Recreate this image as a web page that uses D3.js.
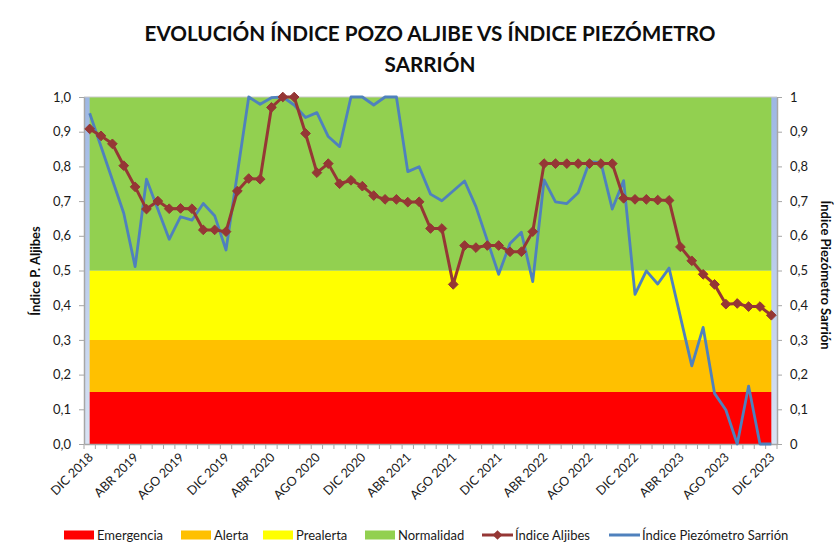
<!DOCTYPE html>
<html><head><meta charset="utf-8">
<script src="https://cdn.jsdelivr.net/npm/d3@7"></script>
<style>
body{margin:0;background:#fff;}
svg{font-family:Lato,"Open Sans",sans-serif;display:block;}
</style></head><body>
<svg id="c" width="839" height="557"></svg>
<script>
const categories = ["DIC 2018","ENE 2019","FEB 2019","MAR 2019","ABR 2019","MAY 2019","JUN 2019","JUL 2019","AGO 2019","SEP 2019","OCT 2019","NOV 2019",
"DIC 2019","ENE 2020","FEB 2020","MAR 2020","ABR 2020","MAY 2020","JUN 2020","JUL 2020","AGO 2020","SEP 2020","OCT 2020","NOV 2020",
"DIC 2020","ENE 2021","FEB 2021","MAR 2021","ABR 2021","MAY 2021","JUN 2021","JUL 2021","AGO 2021","SEP 2021","OCT 2021","NOV 2021",
"DIC 2021","ENE 2022","FEB 2022","MAR 2022","ABR 2022","MAY 2022","JUN 2022","JUL 2022","AGO 2022","SEP 2022","OCT 2022","NOV 2022",
"DIC 2022","ENE 2023","FEB 2023","MAR 2023","ABR 2023","MAY 2023","JUN 2023","JUL 2023","AGO 2023","SEP 2023","OCT 2023","NOV 2023","DIC 2023"];
const tickLabels = ["DIC 2018","ABR 2019","AGO 2019","DIC 2019","ABR 2020","AGO 2020","DIC 2020","ABR 2021","AGO 2021","DIC 2021","ABR 2022","AGO 2022","DIC 2022","ABR 2023","AGO 2023","DIC 2023"];
const emergencia = 0.15, alerta = 0.15, prealerta = 0.20, normalidad = 0.50;
const indiceAljibes = [0.908,0.888,0.865,0.802,0.741,0.677,0.700,0.678,0.679,0.678,0.617,0.617,
0.612,0.729,0.765,0.763,0.970,1.0,1.0,0.895,0.782,0.808,0.750,0.760,
0.743,0.716,0.705,0.705,0.697,0.698,0.621,0.621,0.460,0.572,0.566,0.572,
0.572,0.554,0.554,0.612,0.808,0.808,0.808,0.808,0.808,0.808,0.808,0.708,
0.705,0.705,0.703,0.702,0.568,0.528,0.489,0.460,0.403,0.405,0.396,0.396,0.371];
const indicePiezometro = [0.953,null,null,0.665,0.511,0.763,null,0.590,0.655,0.645,0.693,0.658,
0.559,null,1.0,0.979,0.998,1.0,0.977,0.941,0.955,0.886,0.857,1.0,
1.0,0.977,1.0,1.0,0.785,0.799,0.720,0.701,null,0.758,0.684,null,
0.489,0.578,0.610,0.468,0.761,0.698,0.693,0.724,0.814,0.811,0.677,0.759,
0.431,0.499,0.461,0.507,null,0.225,0.336,0.146,0.098,0,0.167,0,0];
const yTicks = [0,0.1,0.2,0.3,0.4,0.5,0.6,0.7,0.8,0.9,1.0];

const svg = d3.select("#c");
const L = 84, R = 777, T = 97, B = 444;
const x = d3.scaleBand().domain(categories).range([L, R]).paddingInner(0).paddingOuter(0);
const cx = c => x(c) + x.bandwidth()/2;
const yL = d3.scaleLinear().domain([0,1]).range([B, T]);
const yR = d3.scaleLinear().domain([0,1]).range([B, T]);

// background gradient
const defs = svg.append("defs");
const g = defs.append("linearGradient").attr("id","bg").attr("x1",0).attr("y1",0).attr("x2",0).attr("y2",1);
g.append("stop").attr("offset","0%").attr("stop-color","#9db7e4");
g.append("stop").attr("offset","100%").attr("stop-color","#d9e3f4");
svg.append("rect").attr("x",L).attr("y",T).attr("width",R-L).attr("height",B-T).attr("fill","url(#bg)");

// stacked areas
const bandData = categories.map(c => ({c, emergencia, alerta, prealerta, normalidad}));
const keys = ["emergencia","alerta","prealerta","normalidad"];
const colors = {emergencia:"#ff0000", alerta:"#ffc000", prealerta:"#ffff00", normalidad:"#92d050"};
const stack = d3.stack().keys(keys)(bandData);
const area = d3.area().x(d => cx(d.data.c)).y0(d => yL(d[0])).y1(d => yL(d[1]));
svg.append("g").selectAll("path").data(stack).join("path")
  .attr("d", area).attr("fill", d => colors[d.key]);

// top border
svg.append("line").attr("x1",L).attr("x2",R).attr("y1",T).attr("y2",T).attr("stroke","#c8c8c8").attr("stroke-width",1);

// axes
const fmtL = d => d3.format(".1f")(d).replace(".", ",");
const fmtR = d => d === 0 ? "0" : d === 1 ? "1" : d3.format(".1f")(d).replace(".", ",");
const axL = svg.append("g").attr("transform",`translate(${L},0)`)
  .call(d3.axisLeft(yL).tickValues(yTicks).tickFormat(fmtL).tickSize(5).tickSizeOuter(0).tickPadding(8));
const axR = svg.append("g").attr("transform",`translate(${R},0)`)
  .call(d3.axisRight(yR).tickValues(yTicks).tickFormat(fmtR).tickSize(5).tickSizeOuter(0).tickPadding(8));
[axL, axR].forEach(a => {
  a.select(".domain").attr("stroke","#a6a6a6").attr("stroke-width",1.5);
  a.selectAll(".tick line").attr("stroke","#a6a6a6");
  a.selectAll("text").attr("font-size",13).attr("fill","#1a1a1a").attr("font-family","Lato");
});

// x axis
const axB = svg.append("g").attr("transform",`translate(0,${B})`)
  .call(d3.axisBottom(x).tickValues(tickLabels).tickSize(0).tickSizeOuter(0));
axB.select(".domain").attr("stroke","#a6a6a6").attr("stroke-width",1.5);
axB.selectAll("text").attr("font-size",12.5).attr("fill","#1a1a1a").attr("font-family","Lato")
  .attr("text-anchor","end").attr("dy","0.35em")
  .attr("transform","translate(1,11) rotate(-45)").attr("y",0).attr("x",0);
const bounds = categories.map(c => x(c)).concat([R]);
svg.append("g").selectAll("line").data(bounds).join("line")
  .attr("x1", d => d).attr("x2", d => d).attr("y1", B).attr("y2", B+5)
  .attr("stroke","#a6a6a6").attr("stroke-width",1);

// piezometro line
const pData = categories.map((c,i) => ({c, v: indicePiezometro[i]})).filter(d => d.v !== null);
svg.append("path").datum(pData)
  .attr("d", d3.line().x(d => cx(d.c)).y(d => yR(d.v)))
  .attr("fill","none").attr("stroke","#4f81bd").attr("stroke-width",2.8).attr("stroke-linejoin","round");

// aljibes line
const aData = categories.map((c,i) => ({c, v: indiceAljibes[i]}));
svg.append("path").datum(aData)
  .attr("d", d3.line().x(d => cx(d.c)).y(d => yL(d.v)))
  .attr("fill","none").attr("stroke","#953735").attr("stroke-width",3).attr("stroke-linejoin","round");
const diamond = d3.symbol().type(d3.symbolDiamond2).size(60);
svg.append("g").selectAll("path").data(aData).join("path")
  .attr("transform", d => `translate(${cx(d.c)},${yL(d.v)})`)
  .attr("d", diamond).attr("fill","#953735").attr("stroke","#953735").attr("stroke-width",1);

// titles
svg.append("text").attr("x",430).attr("y",41).attr("text-anchor","middle")
  .attr("font-size",20.7).attr("font-weight","bold").attr("fill","#0d0d0d")
  .text("EVOLUCIÓN ÍNDICE POZO ALJIBE VS ÍNDICE PIEZÓMETRO");
svg.append("text").attr("x",430).attr("y",72).attr("text-anchor","middle")
  .attr("font-size",20.7).attr("font-weight","bold").attr("fill","#0d0d0d")
  .text("SARRIÓN");
svg.append("text").attr("transform","translate(40,271) rotate(-90)").attr("text-anchor","middle")
  .attr("font-size",13).attr("font-weight","bold").attr("fill","#0d0d0d").text("Índice P. Aljibes");
svg.append("text").attr("transform","translate(821,275) rotate(90)").attr("text-anchor","middle")
  .attr("font-size",13).attr("font-weight","bold").attr("fill","#0d0d0d").text("Índice Piezómetro Sarrión");

// legend
const legendItems = [
  {label:"Emergencia", type:"rect", color:"#ff0000", x:64},
  {label:"Alerta", type:"rect", color:"#ffc000", x:181},
  {label:"Prealerta", type:"rect", color:"#ffff00", x:263},
  {label:"Normalidad", type:"rect", color:"#92d050", x:365},
  {label:"Índice Aljibes", type:"marker", color:"#953735", x:482},
  {label:"Índice Piezómetro Sarrión", type:"line", color:"#4f81bd", x:609}
];
const lg = svg.append("g");
const ly = 535;
legendItems.forEach(it => {
  if (it.type === "rect") {
    lg.append("rect").attr("x",it.x).attr("y",ly-4.5).attr("width",30).attr("height",9).attr("fill",it.color);
  } else {
    lg.append("line").attr("x1",it.x).attr("x2",it.x+31).attr("y1",ly).attr("y2",ly)
      .attr("stroke",it.color).attr("stroke-width",3);
    if (it.type === "marker") lg.append("path").attr("transform",`translate(${it.x+15.5},${ly})`)
      .attr("d",diamond).attr("fill",it.color);
  }
  lg.append("text").attr("x",it.x+33).attr("y",ly).attr("dy","0.35em")
    .attr("font-size",13).attr("fill","#1a1a1a").text(it.label);
});
</script></body></html>
